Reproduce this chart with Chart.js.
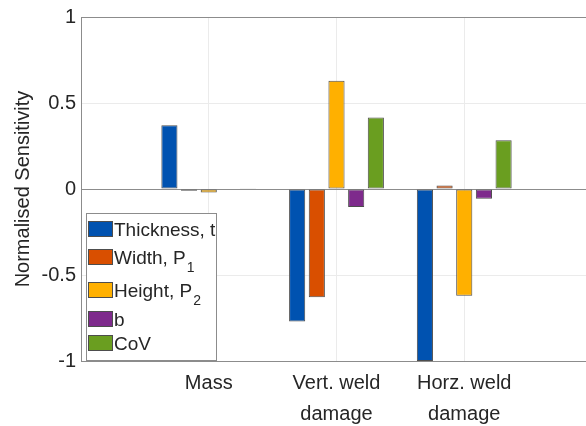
<!DOCTYPE html>
<html>
<head>
<meta charset="utf-8">
<script src="https://cdn.jsdelivr.net/npm/chart.js@4.4.0/dist/chart.umd.min.js"></script>
<style>
html,body{margin:0;padding:0;background:#fff;overflow:hidden;width:586px;height:426px;}
#wrap{width:600px;height:426px;}
</style>
</head>
<body>
<div id="wrap"><canvas id="c" width="600" height="426"></canvas></div>
<script>
// ---- data ----
const categories = ['', 'Mass', ['Vert. weld', 'damage'], ['Horz. weld', 'damage'], ''];
const seriesNames = ['Thickness, t', 'Width, P1', 'Height, P2', 'b', 'CoV'];
const legendMain = ['Thickness, t', 'Width, P', 'Height, P', 'b', 'CoV'];
const legendSub = ['', '1', '2', '', ''];
const thickness = [null, 0.37, -0.77, -1.0, null];
const widthP1 = [null, -0.01, -0.63, 0.02, null];
const heightP2 = [null, -0.02, 0.63, -0.62, null];
const bParam = [null, -0.003, -0.104, -0.056, null];
const cov = [null, 0.002, 0.415, 0.283, null];
const yTicks = [-1, -0.5, 0, 0.5, 1];
const colors = ['#0052B0', '#D94F00', '#FFB000', '#7E2A8C', '#6A9E20'];

const allSeries = [thickness, widthP1, heightP2, bParam, cov];
const FONT = 'Liberation Sans, Arial, sans-serif';
const TXT = '#262626';

const legendPlugin = {
  id: 'matlabLegend',
  afterDraw(chart) {
    const ctx = chart.ctx;
    ctx.save();
    const bx = 86, by = 213, bw = 130, bh = 147;
    ctx.fillStyle = '#fff';
    ctx.fillRect(bx, by, bw, bh);
    ctx.strokeStyle = '#8c8c8c';
    ctx.lineWidth = 1;
    ctx.strokeRect(bx + 0.5, by + 0.5, bw, bh);
    const swY = [221, 249, 282, 311, 335];
    for (let i = 0; i < legendMain.length; i++) {
      ctx.fillStyle = colors[i];
      ctx.fillRect(88, swY[i], 24, 15);
      ctx.strokeStyle = '#4d4d4d';
      ctx.strokeRect(88.5, swY[i] + 0.5, 24, 15);
      ctx.fillStyle = TXT;
      ctx.font = '19px ' + FONT;
      ctx.textBaseline = 'alphabetic';
      ctx.textAlign = 'left';
      const base = swY[i] + 15;
      ctx.fillText(legendMain[i], 114, base);
      if (legendSub[i]) {
        const w = ctx.measureText(legendMain[i]).width;
        ctx.font = '14px ' + FONT;
        ctx.fillText(legendSub[i], 114 + w + 1, base + 8);
      }
    }
    ctx.restore();
  }
};

new Chart(document.getElementById('c'), {
  type: 'bar',
  data: {
    labels: categories,
    datasets: allSeries.map((d, i) => ({
      label: seriesNames[i],
      data: d,
      backgroundColor: colors[i],
      borderColor: '#4d4d4d',
      borderWidth: 1,
      borderSkipped: false,
      categoryPercentage: 0.77,
      barPercentage: 0.82
    }))
  },
  options: {
    responsive: false,
    animation: false,
    layout: { padding: { top: 15, right: 8, left: 0, bottom: 0 } },
    plugins: { legend: { display: false }, tooltip: { enabled: false } },
    scales: {
      x: {
        offset: false,
        grid: { offset: false, color: '#ebebeb', drawTicks: false },
        border: { color: '#8c8c8c' },
        ticks: { color: TXT, font: { family: FONT, size: 20, lineHeight: 1.55 }, padding: 7, maxRotation: 0, autoSkip: false },
        afterFit(s) { s.height = 65; }
      },
      y: {
        min: -1, max: 1,
        afterBuildTicks(s) { s.ticks = yTicks.map(v => ({ value: v })); },
        grid: {
          drawTicks: false,
          color: c => (c.tick && (c.tick.value === 0 || c.tick.value === 1)) ? '#8c8c8c' : '#ebebeb'
        },
        border: { color: '#8c8c8c' },
        ticks: { color: TXT, font: { family: FONT, size: 20 }, padding: 5, callback: v => String(v) },
        title: { display: true, text: 'Normalised Sensitivity', color: TXT, font: { family: FONT, size: 20 }, padding: { top: 11, bottom: 0 } },
        afterFit(s) { s.width = 81; }
      }
    }
  },
  plugins: [legendPlugin]
});
</script>
</body>
</html>
